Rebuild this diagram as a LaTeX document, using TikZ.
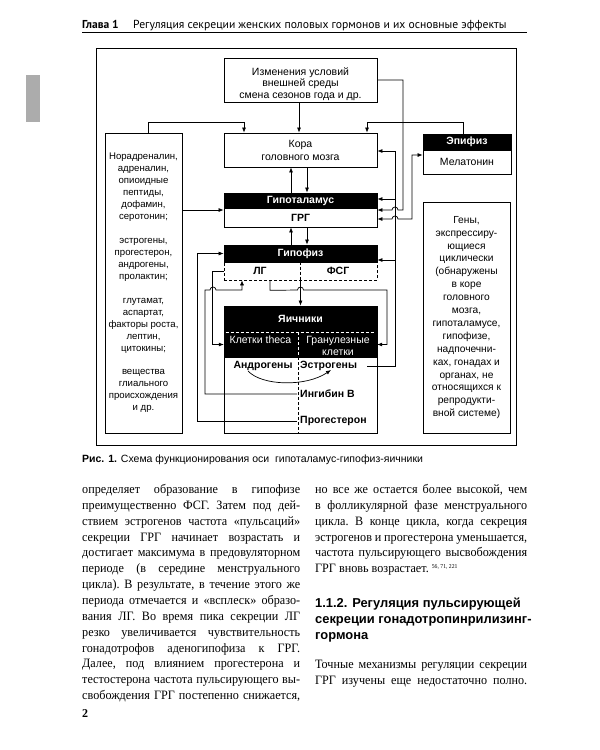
\documentclass[tikz,border=0pt]{standalone}
\usepackage{fontspec}
\setmainfont{Liberation Serif}
\newfontfamily\bodyfont[FakeStretch=0.95]{Liberation Serif}
\newfontfamily\dsans{Liberation Sans}
\newfontfamily\hsans{PT Sans}
\usetikzlibrary{arrows.meta}
\begin{document}
\begin{tikzpicture}[x=1pt,y=-1pt,
  box/.style={draw,line width=0.8pt,inner sep=0pt,align=center,font=\dsans\fontsize{10.5}{13}\selectfont},
  blk/.style={draw=black,fill=black,line width=0.8pt,inner sep=0pt,text=white,font=\dsans\bfseries\fontsize{10.5}{12}\selectfont},
  lbl/.style={inner sep=0pt,font=\dsans\bfseries\fontsize{10.5}{12}\selectfont},
  side/.style={draw,line width=0.8pt,inner sep=0pt,align=center},
  arr/.style={line width=0.7pt,-{Latex[length=5pt,width=4pt]}},
  arrb/.style={line width=0.7pt,{Latex[length=5pt,width=4pt]}-{Latex[length=5pt,width=4pt]}},
  body/.style={inner sep=0pt,anchor=base west,font=\bodyfont\fontsize{12.8}{14}\selectfont\frenchspacing},
  bodyh/.style={inner sep=0pt,anchor=base west,font=\dsans\bfseries\fontsize{12.9}{14}\selectfont},
]
\useasboundingbox (0,0) rectangle (600,750);
\fill[white] (0,0) rectangle (600,750);

% page header
\node[inner sep=0pt,anchor=base west,font=\hsans\bfseries\fontsize{11.5}{13}\selectfont] (hd1) at (82,28) {Глава 1};
\node[inner sep=0pt,anchor=base west,font=\hsans\fontsize{11.65}{13}\selectfont] (hd2) at (133,28) {Регуляция секреции женских половых гормонов и их основные эффекты};
\draw[line width=0.6pt] (82,32.5) -- (527,32.5);
\fill[gray!65] (26,75) rectangle (40,122);

% frame
\node[draw,line width=0.8pt,minimum width=420pt,minimum height=397pt,inner sep=0pt] (frame) at (306,246.5) {};

% central column
\node[box,minimum width=153pt,minimum height=44pt] (env) at (300.5,80) {};
\node[inner sep=0pt,align=center,font=\dsans\fontsize{10.5}{11.5}\selectfont] (envt) at (300.5,84) {Изменения условий\\внешней среды\\смена сезонов года и др.};
\node[box,minimum width=153pt,minimum height=34pt] (kora) at (300.5,150) {Кора\\головного мозга};
\node[blk,minimum width=153pt,minimum height=15pt] (hyph) at (300.5,200.5) {Гипоталамус};
\node[box,minimum width=153pt,minimum height=19pt,font=\dsans\bfseries\fontsize{10.5}{12}\selectfont] (hypl) at (300.5,217.5) {ГРГ};
\node[blk,minimum width=153pt,minimum height=17pt] (giph) at (300.5,253.5) {Гипофиз};
\node[draw,densely dashed,line width=0.7pt,minimum width=153pt,minimum height=18pt,inner sep=0pt] (gipl) at (300.5,271) {};
\draw[densely dashed,line width=0.6pt] (gipl.north) -- (gipl.south);
\node[lbl] (lg) at (260,271) {ЛГ};
\node[lbl] (fsg) at (338,271) {ФСГ};

% ovaries
\node[draw,line width=0.8pt,minimum width=153pt,minimum height=127pt,inner sep=0pt] (ov) at (300.5,369.5) {};
\node[blk,minimum width=153pt,minimum height=26pt] (ovh) at (300.5,319) {Яичники};
\node[draw=black,fill=black,minimum width=153pt,minimum height=25pt,inner sep=0pt] (ovc) at (300.5,344.5) {};
\draw[white,densely dashed,line width=0.6pt] ([xshift=2pt]ovh.south west) -- ([xshift=-2pt]ovh.south east);
\draw[white,densely dashed,line width=0.6pt] ([xshift=-2.5pt]ovc.north) -- ([xshift=-2.5pt]ovc.south);
\draw[densely dashed,line width=0.6pt] ([xshift=-2.5pt]ovc.south) -- ([xshift=-2.5pt]ov.south);
\node[inner sep=0pt,text=white,font=\dsans\fontsize{10.5}{12}\selectfont] (theca) at (260.5,340) {Клетки theca};
\node[inner sep=0pt,text=white,align=center,font=\dsans\fontsize{10.5}{12}\selectfont] (gran) at (338,346) {Гранулезные\\клетки};
\node[lbl] (andr) at (263,366) {Андрогены};
\node[lbl,anchor=west] (estr) at (300,366) {Эстрогены};
\node[lbl,anchor=west] (inh) at (300,394) {Ингибин В};
\node[lbl,anchor=west] (prog) at (300,421) {Прогестерон};

% epiphysis
\node[blk,minimum width=88pt,minimum height=16pt] (epih) at (467,142) {Эпифиз};
\node[box,minimum width=88pt,minimum height=24pt] (epil) at (467,162) {Мелатонин};

% side boxes
\node[side,minimum width=77pt,minimum height=300pt,font=\dsans\fontsize{9.6}{11.95}\selectfont] (lbox) at (143.5,283) {Норадреналин,\\адреналин,\\опиоидные\\пептиды,\\дофамин,\\серотонин;\\[11.95pt]эстрогены,\\прогестерон,\\андрогены,\\пролактин;\\[11.95pt]глутамат,\\аспартат,\\факторы роста,\\лептин,\\цитокины;\\[11.95pt]вещества\\глиального\\происхождения\\и др.};
\node[side,minimum width=87pt,minimum height=231pt,font=\dsans\fontsize{10.2}{12.9}\selectfont] (rbox) at (466.5,317.5) {Гены,\\экспрессиру-\\ющиеся\\циклически\\(обнаружены\\в коре\\головного\\мозга,\\гипоталамусе,\\гипофизе,\\надпочечни-\\ках, гонадах и\\органах, не\\относящихся к\\репродукти-\\вной системе)};

% helper coordinates
\coordinate (eA) at (367,366);
\coordinate (A2) at (395,151);
\coordinate (A3) at (395,199);
\coordinate (A4) at (395,260);
\coordinate (B1) at (403,210);
\coordinate (C1) at (412,155);
\coordinate (C2) at (412,219);
\coordinate (L1) at (182,210);
\coordinate (I1) at (205,290);
\coordinate (I2) at (242,290);
\coordinate (F1) at (387,290);
\coordinate (P1) at (197,253.5);
\coordinate (cu1) at (248,371);
\coordinate (cu2) at (331,370);

% connectors
\draw[arr] ([xshift=-1.5pt]env.south) -- ([xshift=-1.5pt]kora.north);
\draw[arr] ([xshift=4.5pt]lbox.north) -- ++(0,-10) -| ([xshift=-56.5pt]kora.north);
\draw[arr] ([xshift=-4pt]epih.north) -- ++(0,-11) -| ([xshift=66.5pt]kora.north);
\draw[arr] ([xshift=-9.5pt]hyph.north) -- ([xshift=-9.5pt]kora.south);
\draw[arr] ([xshift=6.5pt]kora.south) -- ([xshift=6.5pt]hyph.north);
\draw[arr] ([xshift=-9.5pt]giph.north) -- ([xshift=-9.5pt]hypl.south);
\draw[arr] ([xshift=6.5pt]hypl.south) -- ([xshift=6.5pt]giph.north);
\draw[arr] (L1 -| lbox.east) -- (L1 -| hyph.west);

\draw[arr] (eA) -| (A2) -- (A2 -| kora.east);
\draw[arr] (A3) -- (A3 -| hyph.east);
\draw[arr] (A4) -- (A4 -| giph.east);
\draw[arr] (env.east) -| (B1) -- (398,210) arc[start angle=0,end angle=-180,radius=3] -- (B1 -| hypl.east);
\draw[arrb] (C1 -| epil.west) -- (C1) -- (C2) -- (398,219) arc[start angle=0,end angle=-180,radius=3] -- (C2 -| hypl.east);

\draw[arr] ([xshift=-3pt]prog.west) -| (P1) -- (P1 -| giph.west);
\draw[arr] ([xshift=-3pt]inh.west) -| (I1) -- (210,290) arc[start angle=180,end angle=360,radius=3] -- (I2) -- (I2 |- gipl.south);
\draw[arr] (gipl.west) -- ++(-11,0) |- (ovc.west);
\draw[arr] ([xshift=-30.5pt]gipl.south) -- ++(0,10) -- (297.5,290) arc[start angle=180,end angle=360,radius=3] -- (F1) |- (ovc.east);
\draw[arr] (gipl.south) -- (ovh.north);
\draw[arr] (cu1) .. controls (262,386) and (306,387) .. (cu2);

% caption
\node[inner sep=0pt,anchor=base west,font=\dsans\fontsize{10.5}{12}\selectfont] (cap) at (82,462.5) {\textbf{Рис. 1.} Схема функционирования оси\ \ гипоталамус-гипофиз-яичники};

% body text, left column
\node[body] (l1) at (82,493.5) {\makebox[218pt][s]{определяет образование в гипофизе}};
\node[body] (l2) at (82,509.4) {\makebox[218pt][s]{преимущественно ФСГ. Затем под дей-}};
\node[body] (l3) at (82,525.2) {\makebox[218pt][s]{ствием эстрогенов частота «пульсаций»}};
\node[body] (l4) at (82,541.1) {\makebox[218pt][s]{секреции ГРГ начинает возрастать и}};
\node[body] (l5) at (82,556.9) {\makebox[218pt][s]{достигает максимума в предовуляторном}};
\node[body] (l6) at (82,572.8) {\makebox[218pt][s]{периоде (в середине менструального}};
\node[body] (l7) at (82,588.6) {\makebox[218pt][s]{цикла). В результате, в течение этого же}};
\node[body] (l8) at (82,604.5) {\makebox[218pt][s]{периода отмечается и «всплеск» образо-}};
\node[body] (l9) at (82,620.3) {\makebox[218pt][s]{вания ЛГ. Во время пика секреции ЛГ}};
\node[body] (l10) at (82,636.2) {\makebox[218pt][s]{резко увеличивается чувствительность}};
\node[body] (l11) at (82,652) {\makebox[218pt][s]{гонадотрофов аденогипофиза к ГРГ.}};
\node[body] (l12) at (82,667.9) {\makebox[218pt][s]{Далее, под влиянием прогестерона и}};
\node[body] (l13) at (82,683.7) {\makebox[218pt][s]{тестостерона частота пульсирующего вы-}};
\node[body] (l14) at (82,699.6) {\makebox[218pt][s]{свобождения ГРГ постепенно снижается,}};

% body text, right column
\node[body] (r1) at (315,493.5) {\makebox[212pt][s]{но все же остается более высокой, чем}};
\node[body] (r2) at (315,509.4) {\makebox[212pt][s]{в фолликулярной фазе менструального}};
\node[body] (r3) at (315,525.2) {\makebox[212pt][s]{цикла. В конце цикла, когда секреция}};
\node[body] (r4) at (315,541.1) {\makebox[212pt][s]{эстрогенов и прогестерона уменьшается,}};
\node[body] (r5) at (315,556.9) {\makebox[212pt][s]{частота пульсирующего высвобождения}};
\node[body] (r6) at (315,572.8) {ГРГ вновь возрастает. \raisebox{4pt}{\fontsize{6}{6}\selectfont 56, 71, 221}};
\node[bodyh] (h1) at (315,607.5) {1.1.2. Регуляция пульсирующей};
\node[bodyh] (h2) at (315,623.5) {секреции гонадотропинрилизинг-};
\node[bodyh] (h3) at (315,639.5) {гормона};
\node[body] (r7) at (315,668.5) {\makebox[212pt][s]{Точные механизмы регуляции секреции}};
\node[body] (r8) at (315,684.5) {\makebox[212pt][s]{ГРГ изучены еще недостаточно полно.}};

\node[inner sep=0pt,anchor=base west,font=\bfseries\fontsize{12}{14}\selectfont] (pg) at (82,717) {2};
\end{tikzpicture}
\end{document}
